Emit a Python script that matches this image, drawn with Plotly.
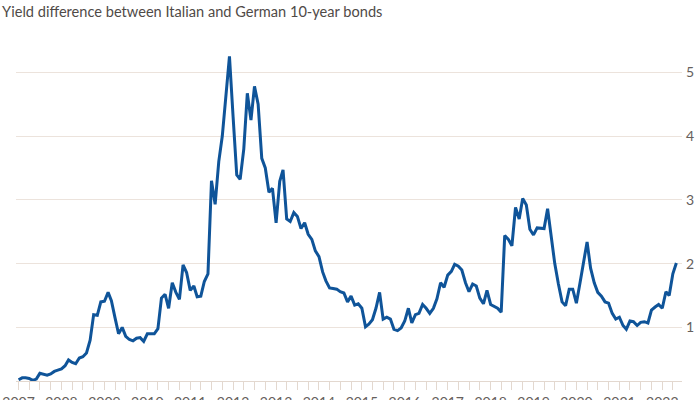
import pandas as pd
import plotly.graph_objects as go

TITLE = "Yield difference between Italian and German 10-year bonds"
START_MONTH = "2007-01-01"
N_MONTHS = 185

spread = [
    # 2007
    0.18, 0.21, 0.21, 0.20, 0.17, 0.19, 0.28, 0.26, 0.25, 0.27, 0.31, 0.33,
    # 2008
    0.35, 0.40, 0.49, 0.45, 0.43, 0.52, 0.54, 0.60, 0.80, 1.20, 1.19, 1.40,
    # 2009
    1.41, 1.55, 1.42, 1.15, 0.90, 1.00, 0.86, 0.81, 0.79, 0.83, 0.84, 0.78,
    # 2010
    0.90, 0.90, 0.90, 0.98, 1.46, 1.52, 1.30, 1.70, 1.55, 1.44, 1.98, 1.86,
    # 2011
    1.58, 1.65, 1.48, 1.49, 1.72, 1.84, 3.30, 2.93, 3.60, 4.00, 4.65, 5.25,
    # 2012
    4.30, 3.39, 3.32, 3.80, 4.67, 4.25, 4.78, 4.50, 3.65, 3.50, 3.12, 3.18,
    # 2013
    2.64, 3.29, 3.47, 2.70, 2.66, 2.80, 2.74, 2.55, 2.64, 2.46, 2.38, 2.20,
    # 2014
    2.11, 1.87, 1.73, 1.62, 1.61, 1.60, 1.56, 1.54, 1.40, 1.49, 1.35, 1.37,
    # 2015
    1.30, 1.01, 1.05, 1.12, 1.30, 1.55, 1.13, 1.16, 1.13, 0.97, 0.95, 0.99,
    # 2016
    1.10, 1.30, 1.07, 1.20, 1.22, 1.36, 1.30, 1.22, 1.30, 1.45, 1.70, 1.63,
    # 2017
    1.82, 1.88, 1.99, 1.96, 1.90, 1.70, 1.56, 1.68, 1.65, 1.46, 1.37, 1.58,
    # 2018
    1.36, 1.33, 1.30, 1.24, 2.44, 2.38, 2.28, 2.88, 2.70, 3.02, 2.92, 2.54,
    # 2019
    2.45, 2.56, 2.56, 2.55, 2.86, 2.45, 2.00, 1.68, 1.40, 1.34, 1.60, 1.60,
    # 2020
    1.38, 1.70, 2.00, 2.34, 1.93, 1.70, 1.55, 1.49, 1.40, 1.38, 1.22, 1.13,
    # 2021
    1.16, 1.03, 0.97, 1.10, 1.09, 1.03, 1.08, 1.09, 1.07, 1.27, 1.32, 1.36,
    # 2022
    1.30, 1.56, 1.50, 1.84, 2.01,
]

dates = pd.date_range(START_MONTH, periods=N_MONTHS, freq="MS")

y_ticks = [1, 2, 3, 4, 5]

LINE_COLOR = "#0f5499"
GRID_COLOR = "#ece3dc"
TICK_COLOR = "#e3d8cf"
TEXT_COLOR = "#66605c"
FONT = "Lato, Roboto, sans-serif"

fig = go.Figure(
    go.Scatter(
        x=dates,
        y=spread,
        mode="lines",
        line=dict(color=LINE_COLOR, width=3),
        hoverinfo="x+y",
    )
)

fig.update_layout(
    width=700,
    height=400,
    margin=dict(l=16, r=18, t=34, b=19),
    paper_bgcolor="white",
    plot_bgcolor="white",
    showlegend=False,
    font=dict(family=FONT, color=TEXT_COLOR, size=14),
    title=dict(
        text=TITLE,
        x=0.003,
        xanchor="left",
        xref="container",
        y=0.97,
        yanchor="middle",
        yref="container",
        font=dict(family=FONT, size=14.6, color="#4f4a47"),
    ),
)

fig.update_xaxes(
    type="date",
    range=["2006-12-10", "2022-06-18"],
    tick0="2007-01-01",
    dtick="M12",
    tickformat="%Y",
    ticks="outside",
    ticklen=8,
    tickcolor=TICK_COLOR,
    tickwidth=1,
    showline=True,
    linecolor=TICK_COLOR,
    linewidth=1,
    showgrid=False,
    zeroline=False,
    automargin=False,
    tickfont=dict(size=14, color=TEXT_COLOR),
    minor=dict(dtick="M3", ticks="outside", ticklen=8, tickcolor=TICK_COLOR, showgrid=False),
)

fig.update_yaxes(
    range=[0.16, 5.6],
    side="right",
    tickvals=y_ticks,
    ticktext=[str(v) for v in y_ticks],
    ticks="",
    ticklabelstandoff=3,
    showgrid=True,
    gridcolor=GRID_COLOR,
    gridwidth=1,
    zeroline=False,
    showline=False,
    automargin=False,
    tickfont=dict(size=14, color=TEXT_COLOR),
)

fig.write_html("out.html")
